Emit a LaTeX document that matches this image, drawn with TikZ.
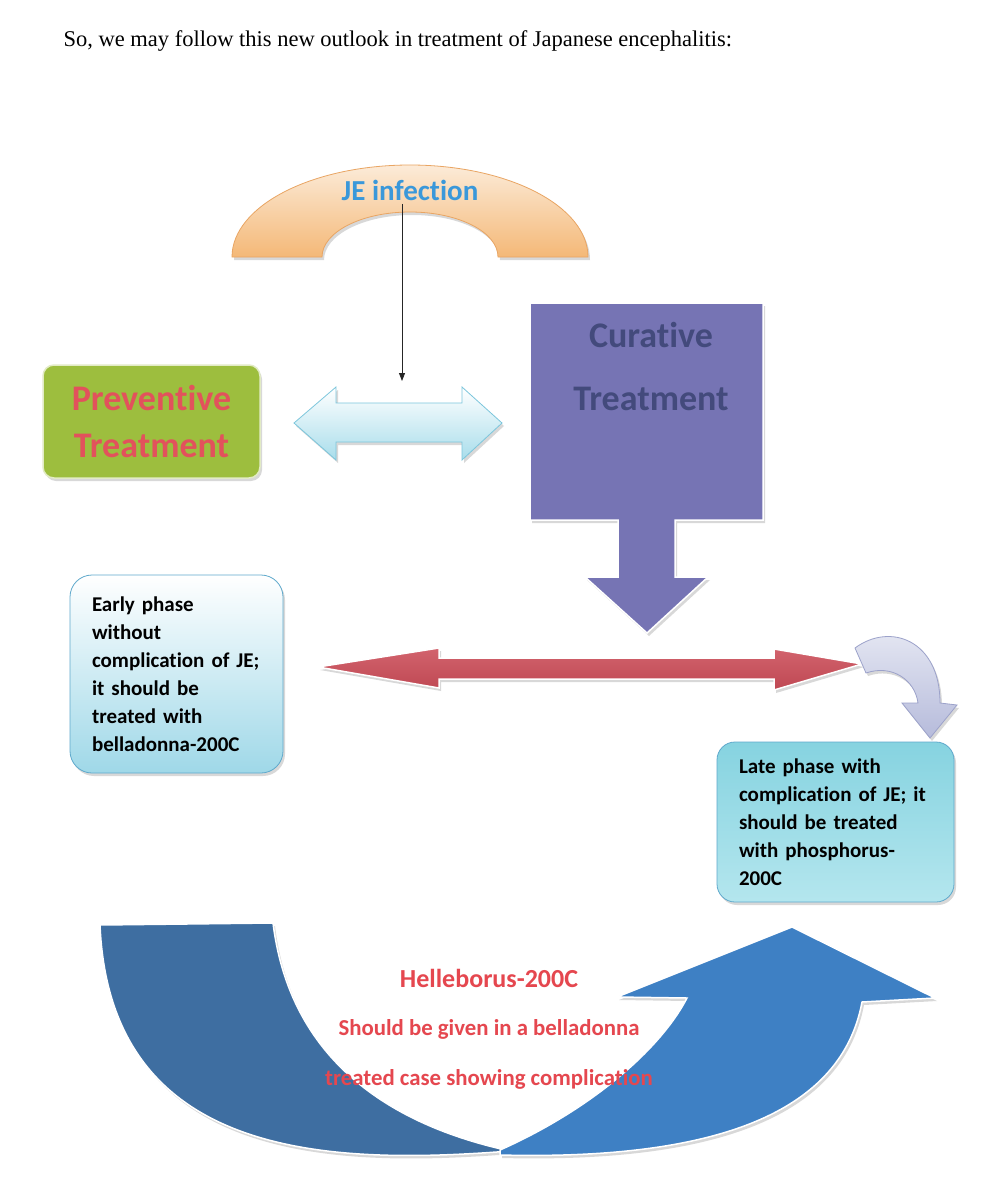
\documentclass[tikz,border=0pt]{standalone}
\usepackage{fontspec}
\setmainfont[Ligatures=NoCommon]{Carlito}
\newfontfamily\introfont{Liberation Serif}
\usepackage{tikz}
\usetikzlibrary{positioning, arrows.meta, shadows}
\definecolor{archtop}{HTML}{FCEBD8}
\definecolor{archbot}{HTML}{F4B877}
\definecolor{archline}{HTML}{E9A563}
\definecolor{jeblue}{HTML}{3A98DA}
\definecolor{prevgreen}{HTML}{9DBE3E}
\definecolor{prevred}{HTML}{E2525C}
\definecolor{curepurple}{HTML}{7674B4}
\definecolor{curetext}{HTML}{434A7C}
\definecolor{pipetop}{HTML}{FFFFFF}
\definecolor{pipebot}{HTML}{A8DDEB}
\definecolor{pipeline}{HTML}{7CC6DC}
\definecolor{linkred}{HTML}{D2636D}
\definecolor{linkredbot}{HTML}{BF4853}
\definecolor{turntop}{HTML}{E8EAF4}
\definecolor{turnbot}{HTML}{B6BBDB}
\definecolor{turnline}{HTML}{9CA2CA}
\definecolor{earlybot}{HTML}{9FD8E8}
\definecolor{phaseline}{HTML}{5FA9CC}
\definecolor{latetop}{HTML}{86D3E0}
\definecolor{latebot}{HTML}{B4E6EE}
\definecolor{loopdark}{HTML}{3E6EA1}
\definecolor{looplight}{HTML}{3E80C4}
\definecolor{hellred}{HTML}{E5474F}

\begin{document}
\begin{tikzpicture}[
  x=1pt, y=-1pt,
  every node/.style={font=\bfseries},
  shade/.style={drop shadow={shadow xshift=2pt, shadow yshift=-3pt, opacity=0.3}},
  blockshape/.style={shade, draw=white, line width=1.5pt, line join=miter},
  startbox/.style={rectangle, rounded corners=11pt, shade, draw=white!70!prevgreen, line width=1.5pt, fill=prevgreen, minimum width=217pt, minimum height=113pt, align=center, text=prevred, font=\fontsize{36}{47}\selectfont\bfseries},
  phasebox/.style={rectangle, shade, draw=phaseline, line width=0.8pt, align=left, inner xsep=22pt, font=\fontsize{21}{28}\selectfont\bfseries},
  link/.style={-{Triangle[length=8pt, width=6pt]}, line width=0.8pt, draw=black!85}
]
  \useasboundingbox[fill=white] (0,0) rectangle (980,1182);

  % Heading line
  \node[anchor=base west, font=\introfont\fontsize{22.5}{26}\selectfont] (intro) at (60,47) {So, we may follow this new outlook in treatment of Japanese encephalitis:};

  % Top: infection arch
  \draw[blockshape, draw=archline, line width=0.8pt, top color=archtop, bottom color=archbot]
    (232,257) arc[start angle=180, end angle=360, x radius=178, y radius=92]
    -- (498,257) arc[start angle=0, end angle=-180, x radius=88, y radius=45] -- cycle;
  \node[text=jeblue, font=\fontsize{29}{34}\selectfont\bfseries] (jetext) at (410,190) {JE infection};

  % Middle row: preventive and curative
  \node[startbox] (preventive) at (151.5,421.5) {Preventive\\Treatment};
  \draw[blockshape, draw=pipeline, line width=0.8pt, top color=pipetop, bottom color=pipebot]
    (294,423) -- (336,387) -- (336,403) -- (462,403) -- (462,387) -- (502,423)
    -- (462,460) -- (462,442) -- (336,442) -- (336,460) -- cycle;
  \coordinate (hub) at (402,381);
  \draw[link] (jetext.south -| hub) -- (hub);

  \draw[blockshape, fill=curepurple]
    (530,303) -- (763,303) -- (763,520) -- (675,520) -- (675,577) -- (708,577)
    -- (647,633) -- (585,577) -- (618,577) -- (618,520) -- (530,520) -- cycle;
  \node[text=curetext, font=\fontsize{36}{63}\selectfont\bfseries, align=center] (curative) at (651,366) {Curative\\Treatment};

  % Phase boxes and the link between them
  \node[phasebox, rounded corners=22pt, top color=white, bottom color=earlybot, text width=169pt, minimum width=213pt, minimum height=198pt] (early) at (176.5,674) {Early phase\\without\\complication of JE;\\it should be\\treated with\\belladonna-200C};
  \node[phasebox, rounded corners=18pt, top color=latetop, bottom color=latebot, text width=193pt, minimum width=237pt, minimum height=160pt] (late) at (835.5,822) {Late phase with\\complication of JE; it\\should be treated\\with phosphorus-\\200C};

  \draw[blockshape, top color=linkred, bottom color=linkredbot]
    (318,667) -- (439,648) -- (439,658) -- (774,658) -- (774,649) -- (862,664)
    -- (774,690) -- (774,679) -- (439,679) -- (439,688) -- cycle;
  \draw[blockshape, draw=turnline, line width=0.8pt, top color=turntop, bottom color=turnbot]
    (855,648) .. controls (890,622) and (940,640) .. (940,703) -- (957,705)
    -- (930,738) -- (902,703) -- (918,703)
    .. controls (915,680) and (892,664) .. (866,673) -- cycle;

  % Bottom: loop back arrows
  \draw[blockshape, fill=loopdark]
    (100,925) -- (273,923) .. controls (290,1060) and (390,1125) .. (510,1151)
    .. controls (330,1165) and (110,1160) .. (100,925) -- cycle;
  \draw[blockshape, fill=looplight]
    (500,1150) .. controls (590,1110) and (660,1050) .. (687,998)
    -- (617,997) -- (792,927) -- (935,998) -- (862,1002)
    .. controls (840,1120) and (700,1160) .. (500,1155) -- cycle;

  \node[text=hellred, font=\fontsize{26}{30}\selectfont\bfseries] (helleborus) at (489,978) {Helleborus-200C};
  \node[text=hellred, font=\fontsize{22.8}{50}\selectfont\bfseries, align=center] (hellnote) at (489,1054) {Should be given in a belladonna\\treated case showing complication};

\end{tikzpicture}
\end{document}
